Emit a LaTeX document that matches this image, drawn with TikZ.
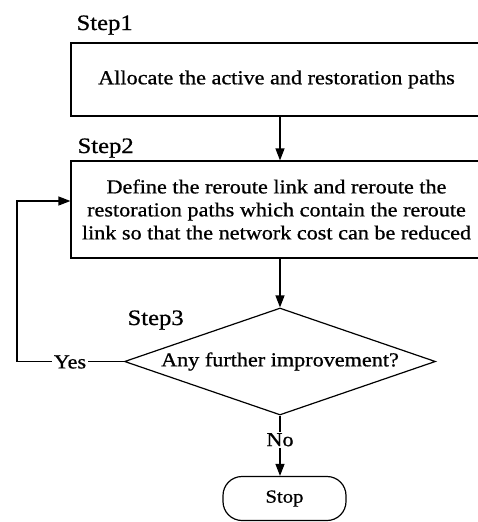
\documentclass[tikz,border=0pt]{standalone}
\usepackage{fontspec}
\setmainfont[FakeStretch=1.12,FakeBold=0.8]{Liberation Serif}
\usetikzlibrary{shapes.geometric,arrows.meta}
\begin{document}
\begin{tikzpicture}[x=1pt,y=-1pt,
  line width=1.2pt,
  arr/.style={-{Triangle[length=12pt,width=9pt]}},
  stepbox/.style={draw,rectangle,minimum width=411pt,inner sep=0pt,
    font=\fontsize{19.8}{23}\selectfont,align=center},
  steplabel/.style={anchor=base west,inner sep=0pt,font=\fontsize{22}{26}\selectfont},
  decision/.style={draw,diamond,aspect=2.9,inner sep=0pt,
    minimum width=311pt,minimum height=107pt,font=\fontsize{19.8}{23}\selectfont},
  terminal/.style={draw,rectangle,rounded corners=19pt,minimum width=123pt,
    minimum height=44pt,inner sep=0pt,font=\fontsize{18.5}{21}\selectfont},
  tag/.style={fill=white,inner sep=1.5pt,font=\fontsize{19.8}{23}\selectfont}]
\useasboundingbox (0,0) rectangle (478,522);

% step labels
\node[steplabel] (s1) at (76,30) {Step1};
\node[steplabel] (s2) at (77,153) {Step2};
\node[steplabel] (s3) at (127,325) {Step3};

% process boxes
\node[stepbox,minimum height=73pt] (box1) at (276.5,79.5)
  {Allocate the active and restoration paths};
\node[stepbox,minimum height=97pt] (box2) at (276.5,209.5)
  {Define the reroute link and reroute the\\
   restoration paths which contain the reroute\\
   link so that the network cost can be reduced};

% decision and end
\node[decision] (dec) at (280,361.5) {Any further improvement?};
\node[terminal] (stop) at (284.5,498.5) {Stop};

% main flow
\draw[arr] (box1.south -| dec.north) -- (box2.north -| dec.north);
\draw[arr] (box2.south -| dec.north) -- (dec.north);
\draw[arr] (dec.south) -- (stop.north -| dec.south)
  node[tag,pos=0.4] (no) {No};

% loop back on "Yes"
\coordinate (lc) at (17,361.5);
\coordinate (lt) at (17,201);
\draw[arr] (dec.west) -- (lc) -- (lt) -- (lt -| box2.west);
\node[tag] (yes) at (70,362) {Yes};
\end{tikzpicture}
\end{document}
